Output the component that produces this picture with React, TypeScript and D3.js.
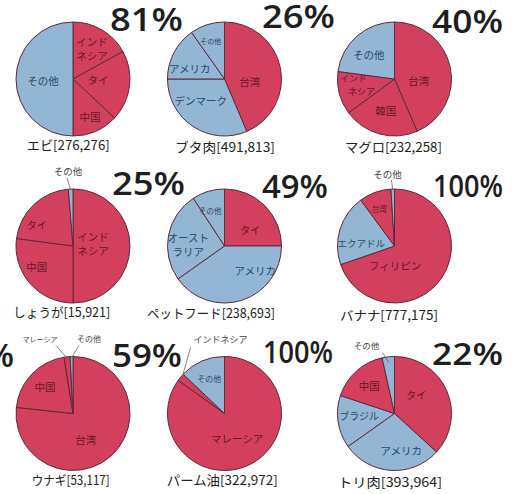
import React from "react";
import * as d3 from "d3";

// ---- data ----
const names = ["エビ[276,276]", "ブタ肉[491,813]", "マグロ[232,258]", "しょうが[15,921]", "ペットフード[238,693]", "バナナ[777,175]", "ウナギ[53,117]", "パーム油[322,972]", "トリ肉[393,964]"];
const pctLabels = ["81%", "26%", "40%", "25%", "49%", "100%", "59%", "100%", "22%"];

const ebiCats = ["インド\nネシア", "タイ", "中国", "その他"];
const ebiVals = [17, 20, 13, 50];
const ebiRed = [1, 1, 1, 0];

const butaCats = ["台湾", "デンマーク", "アメリカ", "その他"];
const butaVals = [43.6, 31.4, 15.2, 9.8];
const butaRed = [1, 0, 0, 0];

const maguroCats = ["台湾", "韓国", "インド\nネシア", "その他"];
const maguroVals = [43.5, 21.4, 12.2, 22.9];
const maguroRed = [1, 1, 1, 0];

const shogaCats = ["インド\nネシア", "中国", "タイ", "その他"];
const shogaVals = [50, 27.1, 21.6, 1.3];
const shogaRed = [1, 1, 1, 0];

const petCats = ["タイ", "アメリカ", "オースト\nラリア", "その他"];
const petVals = [25, 40.2, 25.6, 9.2];
const petRed = [1, 0, 0, 0];

const bananaCats = ["フィリピン", "エクアドル", "台湾", "その他"];
const bananaVals = [69.7, 20.2, 9.1, 1.0];
const bananaRed = [1, 0, 1, 0];

const unagiCats = ["台湾", "中国", "マレーシア", "その他"];
const unagiVals = [76.7, 20.8, 1.7, 0.8];
const unagiRed = [1, 1, 1, 0];

const palmCats = ["マレーシア", "インドネシア", "その他"];
const palmVals = [84.9, 2.2, 12.9];
const palmRed = [1, 1, 0];

const toriCats = ["タイ", "アメリカ", "ブラジル", "中国", "その他"];
const toriVals = [36.8, 28.4, 14.9, 16.4, 3.5];
const toriRed = [1, 0, 0, 1, 0];

// ---- layout (positions / styles) ----
const W = 518, H = 494;
const colX = [73, 224.5, 394.5];
const rowY = [79, 246, 413.5];
const R = 57;
const RED = "#d2405e";
const BLUE = "#92b6d3";
const EDGE = "#5e2a3c";
const RED_TXT = "#6a1629";
const BLUE_TXT = "#2b4865";

// label placement per slice: [dx, dy, fontSize, lineHeightFactor, secondLineShift] relative to pie centre; null => outside label
type Lab = [number, number, number, number?, number?] | null;
const labelLayout: Lab[][] = [
  [[19, -29.5, 10.5], [25, 1, 10.5], [17, 38, 10.5], [-30, 2, 10.5]],
  [[25.3, 3.3, 10.5], [-23.7, 22, 10.5], [-34.7, -9.7, 10.5], [-13.7, -37.7, 7]],
  [[24.3, 2, 10.5], [-8.7, 32.5, 10.5], [-41, 6, 9, 1.5, 8], [-25.7, -23.3, 10.5]],
  [[20, -1.5, 10.5], [-36.3, 21.7, 10.5], [-36.3, -21, 10], null],
  [[25.7, -15.7, 10], [30.7, 25.7, 10.5], [-36.3, -1, 10.5], [-14.3, -34.3, 7.5]],
  [[0.7, 20, 10.5], [-33.3, -2.7, 9.5], [-15.3, -37, 7.5], null],
  [[12.8, 26.7, 10.5], [-28, -26.6, 10.5], null, null],
  [[12.7, 25.7, 10.5], null, [-15.3, -34.3, 8]],
  [[21.7, -18, 10], [6.7, 38, 10.5], [-35.3, 2.7, 10], [-25.3, -27.3, 10.5], null],
];
// outside labels: [sliceIndex, textDx, textDy, fontSize, lineStartDx, lineStartDy, radiusFrac]
const outside: [number, number, number, number, number, number, number][][] = [
  [], [], [],
  [[3, -5, -71, 9.5, -6, -68, 0.98]],
  [],
  [[3, -7, -68, 9.5, -3, -66, 0.98]],
  [[2, -33, -72, 7, -17, -68, 0.97], [3, 16, -72, 8, 6, -68, 0.98]],
  [[1, -4, -71, 9, -34, -66, 0.97]],
  [[4, -28, -65, 8.5, -12, -61, 0.9]],
];
const namePos: [number, number, number][] = [
  [26.7, 150, 83], [175, 152, 100], [345, 152, 97],
  [13.3, 317, 97], [147, 318, 128], [340, 320, 98],
  [31.7, 485, 78], [166.7, 485, 111], [338, 487, 104],
];
const pctPos: [number, number, number, number][] = [
  [110, 31, 73, 33], [262, 28, 73, 33], [432, 33, 71, 33],
  [112, 195, 73, 32], [262, 198, 66, 32], [433, 197, 70, 30],
  [112, 367, 70, 33], [263, 363, 70, 30], [432, 365, 71, 30],
];

const charts = [
  { cats: ebiCats, vals: ebiVals, red: ebiRed },
  { cats: butaCats, vals: butaVals, red: butaRed },
  { cats: maguroCats, vals: maguroVals, red: maguroRed },
  { cats: shogaCats, vals: shogaVals, red: shogaRed },
  { cats: petCats, vals: petVals, red: petRed },
  { cats: bananaCats, vals: bananaVals, red: bananaRed },
  { cats: unagiCats, vals: unagiVals, red: unagiRed },
  { cats: palmCats, vals: palmVals, red: palmRed },
  { cats: toriCats, vals: toriVals, red: toriRed },
];

const JP = "'Noto Sans CJK JP', 'Noto Sans', sans-serif";

const pie = d3.pie<number>().sort(null).value((d) => d).startAngle(0).endAngle(2 * Math.PI);
const arc = d3.arc<d3.PieArcDatum<number>>().innerRadius(0).outerRadius(R);

function Pie({ idx }: { idx: number }) {
  const c = charts[idx];
  const cx = colX[idx % 3];
  const cy = rowY[Math.floor(idx / 3)];
  const arcs = pie(c.vals);
  return (
    <g>
      <g transform={`translate(${cx},${cy})`}>
        {arcs.map((a, i) => (
          <path key={i} d={arc(a) || ""} fill={c.red[i] ? RED : BLUE} stroke={EDGE} strokeWidth={1} strokeLinejoin="round" />
        ))}
        {arcs.map((a, i) => {
          const L = labelLayout[idx][i];
          if (!L) return null;
          const lines = c.cats[i].split("\n");
          const fs = L[2];
          const lh = fs * (L[3] ?? 1.3);
          const shift = L[4] ?? 0;
          const y0 = L[1] - ((lines.length - 1) * lh) / 2 + fs * 0.36;
          return (
            <text key={"l" + i} x={L[0]} y={y0} fontSize={fs} fontFamily={JP} textAnchor="middle" fill={c.red[i] ? RED_TXT : BLUE_TXT}>
              {lines.map((ln, k) => (
                <tspan key={k} x={L[0] + k * shift} y={y0 + k * lh}>{ln}</tspan>
              ))}
            </text>
          );
        })}
        {outside[idx].map((o, k) => {
          const a = arcs[o[0]];
          const rf = o[6] * R;
          const end = d3.arc<d3.PieArcDatum<number>>().innerRadius(rf).outerRadius(rf).centroid(a);
          return (
            <g key={"o" + k}>
              <line x1={o[4]} y1={o[5]} x2={end[0]} y2={end[1]} stroke="#666" strokeWidth={0.8} />
              <text x={o[1]} y={o[2]} fontSize={o[3]} fontFamily={JP} textAnchor="middle" fill="#444">{c.cats[o[0]]}</text>
            </g>
          );
        })}
      </g>
      <text x={namePos[idx][0]} y={namePos[idx][1]} fontSize={13} fontFamily={JP} fill="#222" textLength={namePos[idx][2]} lengthAdjust="spacingAndGlyphs">{names[idx]}</text>
      <text x={pctPos[idx][0]} y={pctPos[idx][1]} fontSize={pctPos[idx][3]} fontFamily="'Open Sans', sans-serif" fontWeight={600} fill="#1e1e1e" textLength={pctPos[idx][2]} lengthAdjust="spacingAndGlyphs">{pctLabels[idx]}</text>
    </g>
  );
}

export default function App() {
  return (
    <svg width={W} height={H} viewBox={`0 0 ${W} ${H}`} style={{ position: "absolute", left: 0, top: 0, background: "#fff" }}>
      <rect width={W} height={H} fill="#fff" />
      {charts.map((_, i) => <Pie key={i} idx={i} />)}
      <text x={14} y={367} fontSize={33} fontFamily="'Open Sans', sans-serif" fontWeight={600} fill="#1e1e1e" textAnchor="end">%</text>
    </svg>
  );
}
